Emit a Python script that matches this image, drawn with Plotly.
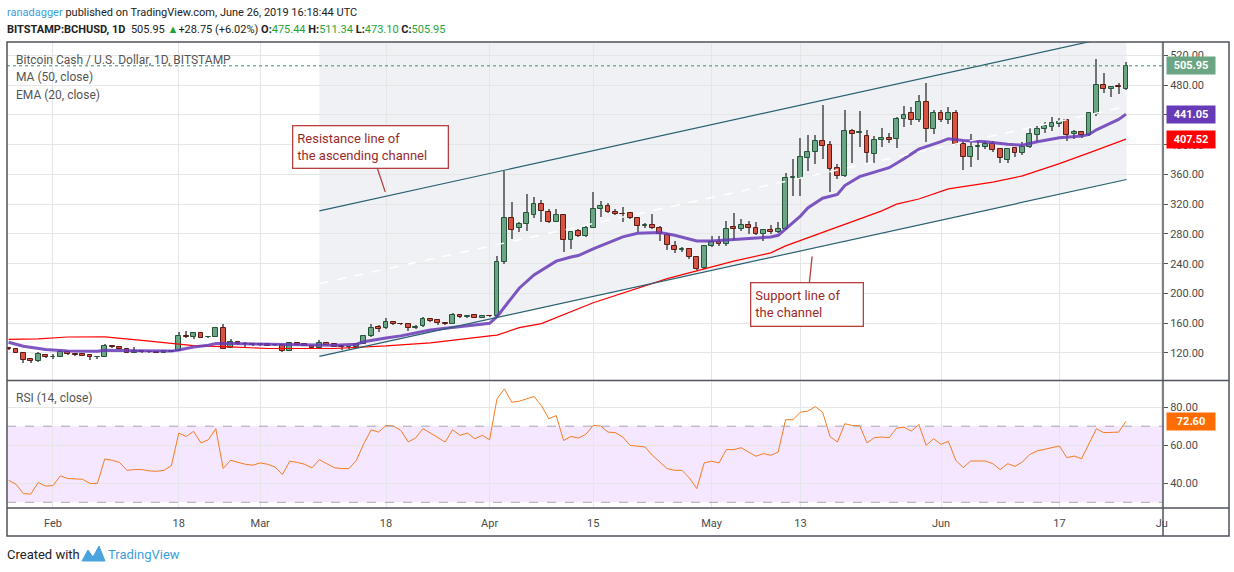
import pandas as pd
import plotly.graph_objects as go

# --- data (BCHUSD daily, Bitstamp) ---
dates = pd.date_range("2019-01-26", "2019-06-26", freq="D")

opens = [127.3, 125.2, 120.5, 111.5, 109.5, 117, 114, 115, 121, 118.3,
         118, 117, 114.2, 114.8, 129.5, 127.7, 125.5, 120.5, 122.5, 121.5,
         121.5, 120.5, 121.5, 122.7, 142.5, 141, 146.5, 140.9, 142, 154,
         127.3, 134.5, 132, 132.3, 130.5, 132, 131, 130.5, 123, 133.2,
         132.5, 130, 127, 133, 131.5, 129, 127.5, 128, 132.3, 142.5,
         155.5, 153.5, 161, 159.5, 159, 153, 156, 165.5, 164.3, 160.3,
         159, 171, 168, 170.5, 167.5, 170, 169.5, 242.5, 301, 288,
         292.7, 306, 320, 310, 296.5, 306, 271.5, 283.5, 277.5, 288.5,
         314, 317, 310, 307, 307.5, 301, 291, 292, 288.5, 279,
         263.5, 259, 260, 249, 234, 264, 269, 266, 289, 287,
         291.5, 287.5, 280, 285, 283, 286, 355, 355, 382, 389.5,
         405, 399, 368, 358, 418.5, 416, 412, 388, 406.5, 408.5,
         407, 434.5, 442, 433, 458, 421.6, 443, 432.5, 442, 401,
         384, 397, 397, 400.5, 394, 379, 396, 388.5, 397, 413,
         421.5, 424, 428, 432.5, 414, 417.5, 413, 441.5, 480, 475,
         478.5, 475.44]
highs = [128.5, 126, 121, 112.5, 121, 119, 118.6, 124, 122, 119,
         119, 117.5, 115.5, 131.8, 130.5, 128.5, 126, 127.5, 124, 122,
         122.5, 123, 124, 148.5, 149, 147.5, 147, 142.5, 155.5, 159,
         138.4, 135, 134.5, 133, 133, 132.5, 131.5, 131, 134, 134,
         133, 131, 137, 133.5, 132, 129.5, 129, 134, 143.5, 158.5,
         158, 166.6, 162, 160.5, 160, 158, 169, 166.5, 165, 161,
         173.5, 172, 171, 171.5, 170.5, 171, 250, 364.5, 323, 296,
         333.8, 330, 325, 314, 313.5, 307, 284, 287, 291, 337,
         324, 322, 313, 316, 310, 302, 295, 307, 291, 281,
         270, 262, 261, 250.5, 265, 276.7, 277.5, 297.8, 307.5, 300,
         297, 296, 286.5, 292, 296, 362, 381, 408.4, 413, 413.3,
         453.6, 405, 374, 446.5, 420.5, 445, 420, 412, 423, 416,
         437.5, 452, 451, 466.5, 483, 447, 447, 450, 447, 403,
         415, 405, 405, 404.5, 395.5, 395.5, 397, 404, 422.7, 424.7,
         431, 437, 436, 433.5, 420, 418.5, 443.5, 515.5, 497, 478,
         483, 511.34]
lows = [124, 119.5, 106.5, 107, 108.5, 113, 112.5, 114, 117, 117,
        116, 111, 113, 114, 127, 125, 120, 120, 120.5, 120,
        120, 120, 121, 122, 139.5, 139, 140, 139.5, 141, 125,
        126.5, 131, 128, 130, 130, 129.5, 129.5, 121, 122.5, 130.5,
        129.5, 125.5, 126.5, 130.5, 127.5, 124.5, 126.5, 127, 131.5, 141.5,
        148, 152.5, 158, 157.5, 149, 152, 155.5, 162, 157.5, 157.5,
        158.5, 167, 167, 166.5, 166.5, 168.5, 168.5, 240, 272.8, 282,
        283.4, 302, 296, 294.5, 295.5, 256, 259.8, 276, 276.5, 287.5,
        303, 308.5, 305.5, 296, 300, 283, 287.5, 287, 271, 258,
        253.8, 255.5, 246, 230, 233, 262.5, 264, 264, 272, 284,
        280, 279, 270, 280.5, 281, 285, 331, 331, 365, 374,
        381, 336, 354, 356, 376, 397, 374, 376, 397.5, 402,
        396, 424, 427, 430, 404, 414, 430, 428, 399, 365.4,
        370, 379, 394, 389.5, 374.8, 374.8, 384, 386, 396, 404,
        415.5, 419, 424, 405, 408, 409, 412, 438, 469.7, 464.5,
        467.6, 473.10]
closes = [124.8, 120.3, 111, 109.5, 118, 114, 115, 121, 118, 117.8,
          116.5, 114, 114.8, 129, 127.5, 125.5, 120.5, 122.5, 121, 120.7,
          120.5, 122, 123, 142.6, 141, 146.5, 140.8, 142, 154, 126,
          134.5, 132, 132.3, 130.5, 132.3, 130, 130.3, 123, 133, 131,
          130, 127, 133, 131, 128, 127.5, 128, 132, 142.6, 154,
          152.5, 161.5, 159.5, 158.5, 153, 155.5, 165.5, 163, 160.3, 159.5,
          171, 168, 170, 167.5, 170, 169.5, 242.5, 301, 285.5, 294,
          308, 320, 310.5, 296.5, 306, 272.5, 282, 277.5, 288.5, 313.5,
          317, 310, 307, 306.5, 301, 291, 292, 288, 279.5, 264.5,
          258.5, 259.5, 249, 232.5, 264, 269, 266, 287, 287, 291.5,
          287.5, 280, 285, 282, 286, 355.5, 356, 384, 389.5, 405,
          398.5, 367, 358, 419, 415, 417.5, 389, 406.5, 409.5, 406.5,
          434, 440.5, 433, 458, 421.6, 443, 432.5, 442, 401, 384,
          397, 398, 401.5, 393.5, 382, 394.5, 388.5, 397, 414, 421.5,
          424.7, 429, 431, 413, 417.5, 413, 442, 480, 475, 477,
          477.5, 505.95]

rsi = [41.6, 39.5, 34.6, 34.3, 40.4, 38.5, 38.8, 43.9, 42.5, 42.3,
       42.1, 39.9, 39.9, 52.8, 52.1, 50.9, 46.8, 47.2, 47.2, 46.5,
       46.3, 46.8, 49.3, 66.4, 64.6, 67.3, 61.2, 62.9, 68.7, 47.7,
       52.1, 51.0, 50.0, 49.5, 50.7, 50.0, 48.6, 44.6, 51.6, 51.0,
       50.0, 48.1, 52.4, 50.3, 48.2, 47.7, 47.7, 52.1, 60.8, 68.1,
       66.9, 70.4, 70.1, 67.8, 61.7, 63.8, 68.7, 66.4, 64.0, 61.7,
       68.1, 65.2, 66.4, 63.4, 65.2, 62.9, 84.4, 89.6, 82.6, 83.1,
       84.4, 85.6, 80.9, 73.9, 75.6, 62.5, 64.6, 63.8, 65.7, 70.4,
       70.1, 66.9, 66.6, 64.3, 59.9, 59.4, 59.1, 54.7, 51.2, 47.7,
       46.8, 46.8, 42.8, 37.2, 50.7, 51.6, 50.7, 57.7, 57.7, 58.7,
       56.4, 54.2, 55.6, 54.7, 56.4, 73.4, 73.4, 77.4, 77.9, 80.3,
       77.4, 64.6, 61.7, 71.3, 70.4, 70.4, 61.2, 64.0, 64.3, 64.0,
       69.0, 69.5, 67.4, 70.9, 59.9, 63.4, 60.5, 62.0, 52.1, 48.2,
       51.7, 51.7, 51.7, 50.3, 47.2, 50.3, 48.9, 51.2, 55.2, 57.0,
       57.8, 58.5, 59.6, 53.5, 54.3, 52.9, 60.8, 68.7, 66.6, 66.9,
       66.9, 72.6]

ema_dates = ["2019-01-26", "2019-01-28", "2019-01-31", "2019-02-03", "2019-02-07",
             "2019-02-08", "2019-02-12", "2019-02-17", "2019-02-18", "2019-02-20",
             "2019-02-22", "2019-02-23", "2019-02-25", "2019-03-02", "2019-03-06",
             "2019-03-11", "2019-03-14", "2019-03-15", "2019-03-18", "2019-03-20",
             "2019-03-24", "2019-03-28", "2019-04-01", "2019-04-02", "2019-04-03",
             "2019-04-04", "2019-04-05", "2019-04-07", "2019-04-10", "2019-04-12",
             "2019-04-13", "2019-04-15", "2019-04-17", "2019-04-19", "2019-04-21",
             "2019-04-24", "2019-04-26", "2019-04-29", "2019-05-01", "2019-05-05",
             "2019-05-09", "2019-05-10", "2019-05-11", "2019-05-12", "2019-05-13",
             "2019-05-14", "2019-05-15", "2019-05-16", "2019-05-18", "2019-05-19",
             "2019-05-21", "2019-05-25", "2019-05-27", "2019-05-29", "2019-06-01",
             "2019-06-02", "2019-06-04", "2019-06-07", "2019-06-10", "2019-06-12",
             "2019-06-14", "2019-06-17", "2019-06-20", "2019-06-21", "2019-06-22",
             "2019-06-23", "2019-06-25", "2019-06-26"]
ema_vals = [134.5, 129, 124.6, 122.8, 122.3, 123.8, 123, 122.5, 124, 128,
            130.5, 132.7, 132.7, 131.8, 131.3, 130.5, 131.8, 135, 140, 143,
            150.8, 155.3, 159.9, 168.8, 182, 194, 207, 225, 243.4, 249,
            251, 260, 268.3, 276, 281, 282, 278.2, 270.5, 270.5, 272.8,
            276, 278.2, 287, 295, 304, 315, 322, 328, 333, 345,
            357, 369, 381, 394, 404, 408, 405.5, 404, 400.7, 399.3,
            404, 409.4, 411.5, 413.8, 420, 425, 434, 441.05]

ma_dates = ["2019-01-26", "2019-01-30", "2019-02-03", "2019-02-08", "2019-02-13",
            "2019-02-17", "2019-02-20", "2019-02-25", "2019-03-02", "2019-03-11",
            "2019-03-15", "2019-03-18", "2019-03-20", "2019-03-24", "2019-04-01",
            "2019-04-02", "2019-04-05", "2019-04-08", "2019-04-15", "2019-04-25",
            "2019-05-04", "2019-05-09", "2019-05-11", "2019-05-18", "2019-05-24",
            "2019-05-26", "2019-05-29", "2019-06-02", "2019-06-08", "2019-06-12",
            "2019-06-17", "2019-06-21", "2019-06-26"]
ma_vals = [138.2, 139, 141.5, 141.7, 137, 132.7, 130, 128.1, 126, 126,
           127.5, 129.5, 131, 133.5, 143, 144, 154, 159.5, 187.5, 220,
           243.4, 254.5, 264, 289, 311, 320, 327, 340.6, 349.7, 358,
           374.5, 389, 407.52]

chan_dates = ["2019-03-09", "2019-06-26 02:00"]
resist_vals = [311.0, 549.4]
support_vals = [115.4, 353.2]
mid_vals = [213.2, 451.3]

x_ticks = ["2019-02-01", "2019-02-18", "2019-03-01", "2019-03-18", "2019-04-01", "2019-04-15",
           "2019-05-01", "2019-05-13", "2019-06-01", "2019-06-17", "2019-06-30 20:00"]
x_labels = ["Feb", "18", "Mar", "18", "Apr", "15", "May", "13", "Jun", "17", "Ju"]

# --- styling ---
UP, DOWN = "#6ba583", "#d75442"
UP_LINE, DOWN_LINE = "#225437", "#5b1a13"
WICK = "#737375"
GRID = "#e6e6e6"
FRAME = "#50535e"
TXT = "#4a4a4a"
FONT = "Roboto, sans-serif"
DAY = 86400000


def fx(px):
    return (px - 7) / 1156


def fy(py):
    return (508 - py) / 466


up = [c >= o for o, c in zip(opens, closes)]
body_base = [min(o, c) for o, c in zip(opens, closes)]
body_h = [abs(c - o) for o, c in zip(opens, closes)]

fig = go.Figure()

# wicks
fig.add_trace(go.Bar(
    x=dates, base=lows, y=[h - l for h, l in zip(highs, lows)],
    width=DAY * 0.14, marker=dict(color=WICK, line=dict(width=0)),
    hoverinfo="skip", showlegend=False
))
# bodies
fig.add_trace(go.Bar(
    x=dates, base=body_base, y=body_h, width=DAY * 0.66,
    marker=dict(color=[UP if u else DOWN for u in up],
                line=dict(color=[UP_LINE if u else DOWN_LINE for u in up], width=1)),
    showlegend=False
))

# moving averages
fig.add_trace(go.Scatter(x=ma_dates, y=ma_vals, mode="lines",
                         line=dict(color="#ff0000", width=1.2), showlegend=False))
fig.add_trace(go.Scatter(x=ema_dates, y=ema_vals, mode="lines",
                         line=dict(color="rgba(103,58,183,0.85)", width=3), showlegend=False))

# channel lines
fig.add_trace(go.Scatter(x=chan_dates, y=mid_vals, mode="lines",
                         line=dict(color="white", width=1.5, dash="dash"), showlegend=False))
fig.add_trace(go.Scatter(x=chan_dates, y=resist_vals, mode="lines",
                         line=dict(color="#2a6070", width=1.2), showlegend=False))
fig.add_trace(go.Scatter(x=chan_dates, y=support_vals, mode="lines",
                         line=dict(color="#2a6070", width=1.2), showlegend=False))

# RSI
fig.add_trace(go.Scatter(x=dates, y=rsi, mode="lines", yaxis="y2",
                         line=dict(color="#f57c20", width=1), showlegend=False))

# shaded channel area (path shape so it stays under the candles)
p0 = chan_dates[0].replace(" ", "_")
p1 = chan_dates[1].replace(" ", "_")
shapes = [
    dict(type="path", xref="x", yref="y", layer="below",
         path=f"M {p0},538 L {p1},538 L {p1},{support_vals[1]} L {p0},{support_vals[0]} Z",
         fillcolor="rgba(224,227,235,0.5)", line=dict(width=0)),
    dict(type="rect", xref="paper", yref="y2", x0=0, x1=1, y0=30, y1=70, layer="below",
         fillcolor="rgba(153,21,255,0.1)", line=dict(width=0)),
    dict(type="line", xref="paper", yref="y2", x0=0, x1=1, y0=70, y1=70,
         line=dict(color="#aaa2b5", width=1, dash="dash")),
    dict(type="line", xref="paper", yref="y2", x0=0, x1=1, y0=30, y1=30,
         line=dict(color="#aaa2b5", width=1, dash="dash")),
    dict(type="line", xref="paper", yref="y", x0=0, x1=1, y0=closes[-1], y1=closes[-1],
         line=dict(color="#3f8f62", width=1, dash="dot")),
    # frame
    dict(type="rect", xref="paper", yref="paper", x0=fx(7), x1=fx(1229), y0=fy(536), y1=fy(42),
         line=dict(color=FRAME, width=1.5)),
    dict(type="line", xref="paper", yref="paper", x0=fx(1163), x1=fx(1163), y0=fy(536), y1=fy(42),
         line=dict(color=FRAME, width=1.5)),
    dict(type="line", xref="paper", yref="paper", x0=fx(7), x1=fx(1229), y0=fy(380.5), y1=fy(380.5),
         line=dict(color=FRAME, width=1.5)),
    dict(type="line", xref="paper", yref="paper", x0=fx(7), x1=fx(1229), y0=fy(508), y1=fy(508),
         line=dict(color=FRAME, width=1.5)),
    # tradingview logo (rough)
    dict(type="path", xref="paper", yref="paper",
         path=f"M {fx(82)},{fy(561)} L {fx(88)},{fy(550)} L {fx(93)},{fy(557)} L {fx(99)},{fy(546)} "
              f"L {fx(105)},{fy(561)} Z",
         fillcolor="#4ba3dd", line=dict(color="#4ba3dd", width=1)),
]

GREEN = "#1fa33a"
annotations = [
    dict(x=fx(5), y=fy(12), xref="paper", yref="paper", xanchor="left", yanchor="middle",
         showarrow=False, font=dict(size=11, color="#222", family=FONT),
         text="<span style='color:#3ba0dd'>ranadagger</span> published on TradingView.com, "
              "June 26, 2019 16:18:44 UTC"),
    dict(x=fx(5), y=fy(30), xref="paper", yref="paper", xanchor="left", yanchor="middle",
         showarrow=False, font=dict(size=11, color="#222", family=FONT),
         text=f"<b>BITSTAMP:BCHUSD, 1D</b>  505.95 <span style='color:{GREEN}'>▲</span>+28.75 (+6.02%) "
              f"<b>O:</b><span style='color:{GREEN}'>475.44</span> "
              f"<b>H:</b><span style='color:{GREEN}'>511.34</span> "
              f"<b>L:</b><span style='color:{GREEN}'>473.10</span> "
              f"<b>C:</b><span style='color:{GREEN}'>505.95</span>"),
    dict(x=fx(14), y=fy(60), xref="paper", yref="paper", xanchor="left", yanchor="middle",
         showarrow=False, font=dict(size=12, color="#555", family=FONT),
         text="Bitcoin Cash / U.S. Dollar, 1D, BITSTAMP"),
    dict(x=fx(14), y=fy(77), xref="paper", yref="paper", xanchor="left", yanchor="middle",
         showarrow=False, font=dict(size=12, color="#555", family=FONT), text="MA (50, close)"),
    dict(x=fx(14), y=fy(95), xref="paper", yref="paper", xanchor="left", yanchor="middle",
         showarrow=False, font=dict(size=12, color="#555", family=FONT), text="EMA (20, close)"),
    dict(x=fx(14), y=fy(398), xref="paper", yref="paper", xanchor="left", yanchor="middle",
         showarrow=False, font=dict(size=12, color="#555", family=FONT), text="RSI (14, close)"),
    dict(x=fx(5), y=fy(554), xref="paper", yref="paper", xanchor="left", yanchor="middle",
         showarrow=False, font=dict(size=13, color="#222", family=FONT), text="Created with"),
    dict(x=fx(106), y=fy(554), xref="paper", yref="paper", xanchor="left", yanchor="middle",
         showarrow=False, font=dict(size=13, color="#3ba0dd", family=FONT), text="TradingView"),
    # callouts
    dict(x="2019-03-17 21:30", y=336.5, xref="x", yref="y", ax=-15, ay=-45,
         text="Resistance line of<br>the ascending channel", align="left",
         width=146, height=33,
         font=dict(size=13, color="#9c2a2a", family=FONT), bgcolor="white",
         bordercolor="#b5403f", borderwidth=1.3, borderpad=4,
         showarrow=True, arrowhead=0, arrowcolor="#b5403f", arrowwidth=1.3),
    dict(x="2019-05-14 14:00", y=249.8, xref="x", yref="y", ax=-5, ay=48,
         text="Support line of<br>the channel", align="left",
         width=103, height=34,
         font=dict(size=13, color="#9c2a2a", family=FONT), bgcolor="white",
         bordercolor="#b5403f", borderwidth=1.3, borderpad=4,
         showarrow=True, arrowhead=0, arrowcolor="#b5403f", arrowwidth=1.3),
]
# last-value labels on the right scales
for val, col, ref in [(closes[-1], "#6ba583", "y"), (ema_vals[-1], "#673ab7", "y"),
                      (ma_vals[-1], "#ff0000", "y"), (rsi[-1], "#ff6d00", "y2")]:
    annotations.append(dict(x=fx(1166), y=val, xref="paper", yref=ref, xanchor="left",
                            yanchor="middle", showarrow=False, text=f"<b>{val:.2f}</b>",
                            bgcolor=col, font=dict(size=11, color="white", family=FONT),
                            width=44, borderpad=2))

fig.update_layout(
    width=1234, height=572,
    margin=dict(l=7, r=71, t=42, b=64),
    paper_bgcolor="white", plot_bgcolor="white",
    barmode="overlay", bargap=0,
    font=dict(family=FONT, size=11, color=TXT),
    showlegend=False,
    xaxis=dict(type="date", domain=[0, 1], anchor="y2",
               range=["2019-01-25 18:50", "2019-07-01 00:00"],
               tickmode="array", tickvals=x_ticks, ticktext=x_labels,
               showgrid=True, gridcolor=GRID, zeroline=False, showline=False,
               ticks="outside", ticklen=5, tickcolor="rgba(0,0,0,0)",
               tickfont=dict(size=11, color=TXT)),
    yaxis=dict(domain=[fy(380.5), 1], side="right", anchor="x",
               range=[83, 538], tick0=0, dtick=40, tickformat=".2f",
               showgrid=True, gridcolor=GRID, zeroline=False, showline=False,
               ticks="outside", ticklen=4, tickcolor="#555",
               tickfont=dict(size=11, color=TXT)),
    yaxis2=dict(domain=[0, fy(381.5)], side="right", anchor="x",
                range=[27, 93.5], tickvals=[40, 60, 80], tickformat=".2f",
                showgrid=True, gridcolor=GRID, zeroline=False, showline=False,
                ticks="outside", ticklen=4, tickcolor="#555",
                tickfont=dict(size=11, color=TXT)),
    shapes=shapes,
    annotations=annotations,
)

# page has a default body margin; drop it so the figure sits at the window's corner
fig.write_html("out.html", config={"displayModeBar": False},
               post_script="document.body.style.margin='0px';")
